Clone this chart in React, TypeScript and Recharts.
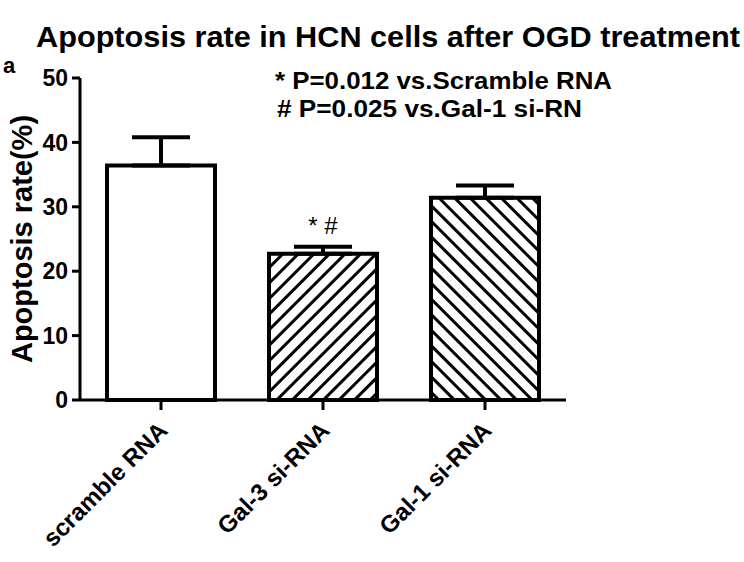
import React from "react";
import { BarChart, Bar, XAxis, YAxis, Cell, ErrorBar, LabelList } from "recharts";

// values
const groups = ["scramble RNA", "Gal-3 si-RNA", "Gal-1 si-RNA"];
const rates = [36.4, 22.7, 31.4];
const sem = [4.4, 1.1, 1.9];
const marks = ["", "* #", ""];
const yTicks = [0, 10, 20, 30, 40, 50];

const chartData = groups.map((name, i) => ({
  name,
  rate: rates[i],
  err: [0, sem[i]], // only the upper whisker is drawn
  mark: marks[i],
}));

const barFills = ["#ffffff", "url(#hatchUp)", "url(#hatchDown)"];
const font = '"Liberation Sans", Arial, Helvetica, sans-serif';

const XTick = (props: any) => {
  const { x, y, payload } = props;
  return (
    <g transform={`translate(${x + 8},${y + 20}) rotate(-45)`}>
      <text x={0} y={0} textAnchor="end" fontFamily={font} fontWeight="bold" fontSize={24} fill="#000">
        {payload.value}
      </text>
    </g>
  );
};

const App: React.FC = () => {
  return (
    <div style={{ position: "absolute", left: 0, top: 0, width: 744, height: 562, background: "#fff" }}>
      <BarChart
        width={744}
        height={562}
        data={chartData}
        margin={{ top: 78, right: 178, bottom: 12, left: 0 }}
        barSize={108}
      >
        <defs>
          <pattern id="hatchUp" patternUnits="userSpaceOnUse" width={11} height={11} patternTransform="rotate(45)">
            <rect width={11} height={11} fill="#fff" />
            <line x1={5.5} y1={0} x2={5.5} y2={11} stroke="#000" strokeWidth={3} />
          </pattern>
          <pattern id="hatchDown" patternUnits="userSpaceOnUse" width={11} height={11} patternTransform="rotate(-45)">
            <rect width={11} height={11} fill="#fff" />
            <line x1={5.5} y1={0} x2={5.5} y2={11} stroke="#000" strokeWidth={3} />
          </pattern>
        </defs>
        <XAxis
          dataKey="name"
          interval={0}
          height={150}
          tickSize={10}
          tick={<XTick />}
          tickLine={{ stroke: "#000", strokeWidth: 3 }}
          axisLine={{ stroke: "#000", strokeWidth: 3 }}
        />
        <YAxis
          domain={[0, 50]}
          ticks={yTicks}
          width={80}
          tickSize={8}
          tickMargin={4}
          tick={{ fill: "#000", fontSize: 23, fontWeight: "bold", fontFamily: font }}
          tickLine={{ stroke: "#000", strokeWidth: 3 }}
          axisLine={{ stroke: "#000", strokeWidth: 3 }}
        />
        <Bar dataKey="rate" stroke="#000" strokeWidth={4} isAnimationActive={false}>
          {chartData.map((d, i) => (
            <Cell key={`cell-${i}`} fill={barFills[i]} />
          ))}
          <ErrorBar dataKey="err" direction="y" width={29} stroke="#000" strokeWidth={4} isAnimationActive={false} />
          <LabelList
            dataKey="mark"
            position="top"
            offset={20}
            fill="#000"
            fontSize={24}
            fontFamily={font}
          />
        </Bar>
      </BarChart>

      {/* title, panel letter, axis title and p-value notes */}
      <svg width={744} height={562} style={{ position: "absolute", left: 0, top: 0, pointerEvents: "none" }}>
        <text
          x={388}
          y={47}
          textAnchor="middle"
          fontFamily={font}
          fontWeight="bold"
          fontSize={30}
          textLength={704}
          lengthAdjust="spacingAndGlyphs"
        >
          Apoptosis rate in HCN cells after OGD treatment
        </text>
        <text x={3} y={73} fontFamily={font} fontWeight="bold" fontSize={22}>
          a
        </text>
        <text
          transform="translate(32,239) rotate(-90)"
          textAnchor="middle"
          fontFamily={font}
          fontWeight="bold"
          fontSize={29}
        >
          Apoptosis rate(%)
        </text>
        <text x={275} y={89} fontFamily={font} fontWeight="bold" fontSize={23} textLength={337} lengthAdjust="spacingAndGlyphs">
          * P=0.012 vs.Scramble RNA
        </text>
        <text x={277} y={117} fontFamily={font} fontWeight="bold" fontSize={23} textLength={305} lengthAdjust="spacingAndGlyphs">
          # P=0.025 vs.Gal-1 si-RN
        </text>
      </svg>
    </div>
  );
};

export default App;
